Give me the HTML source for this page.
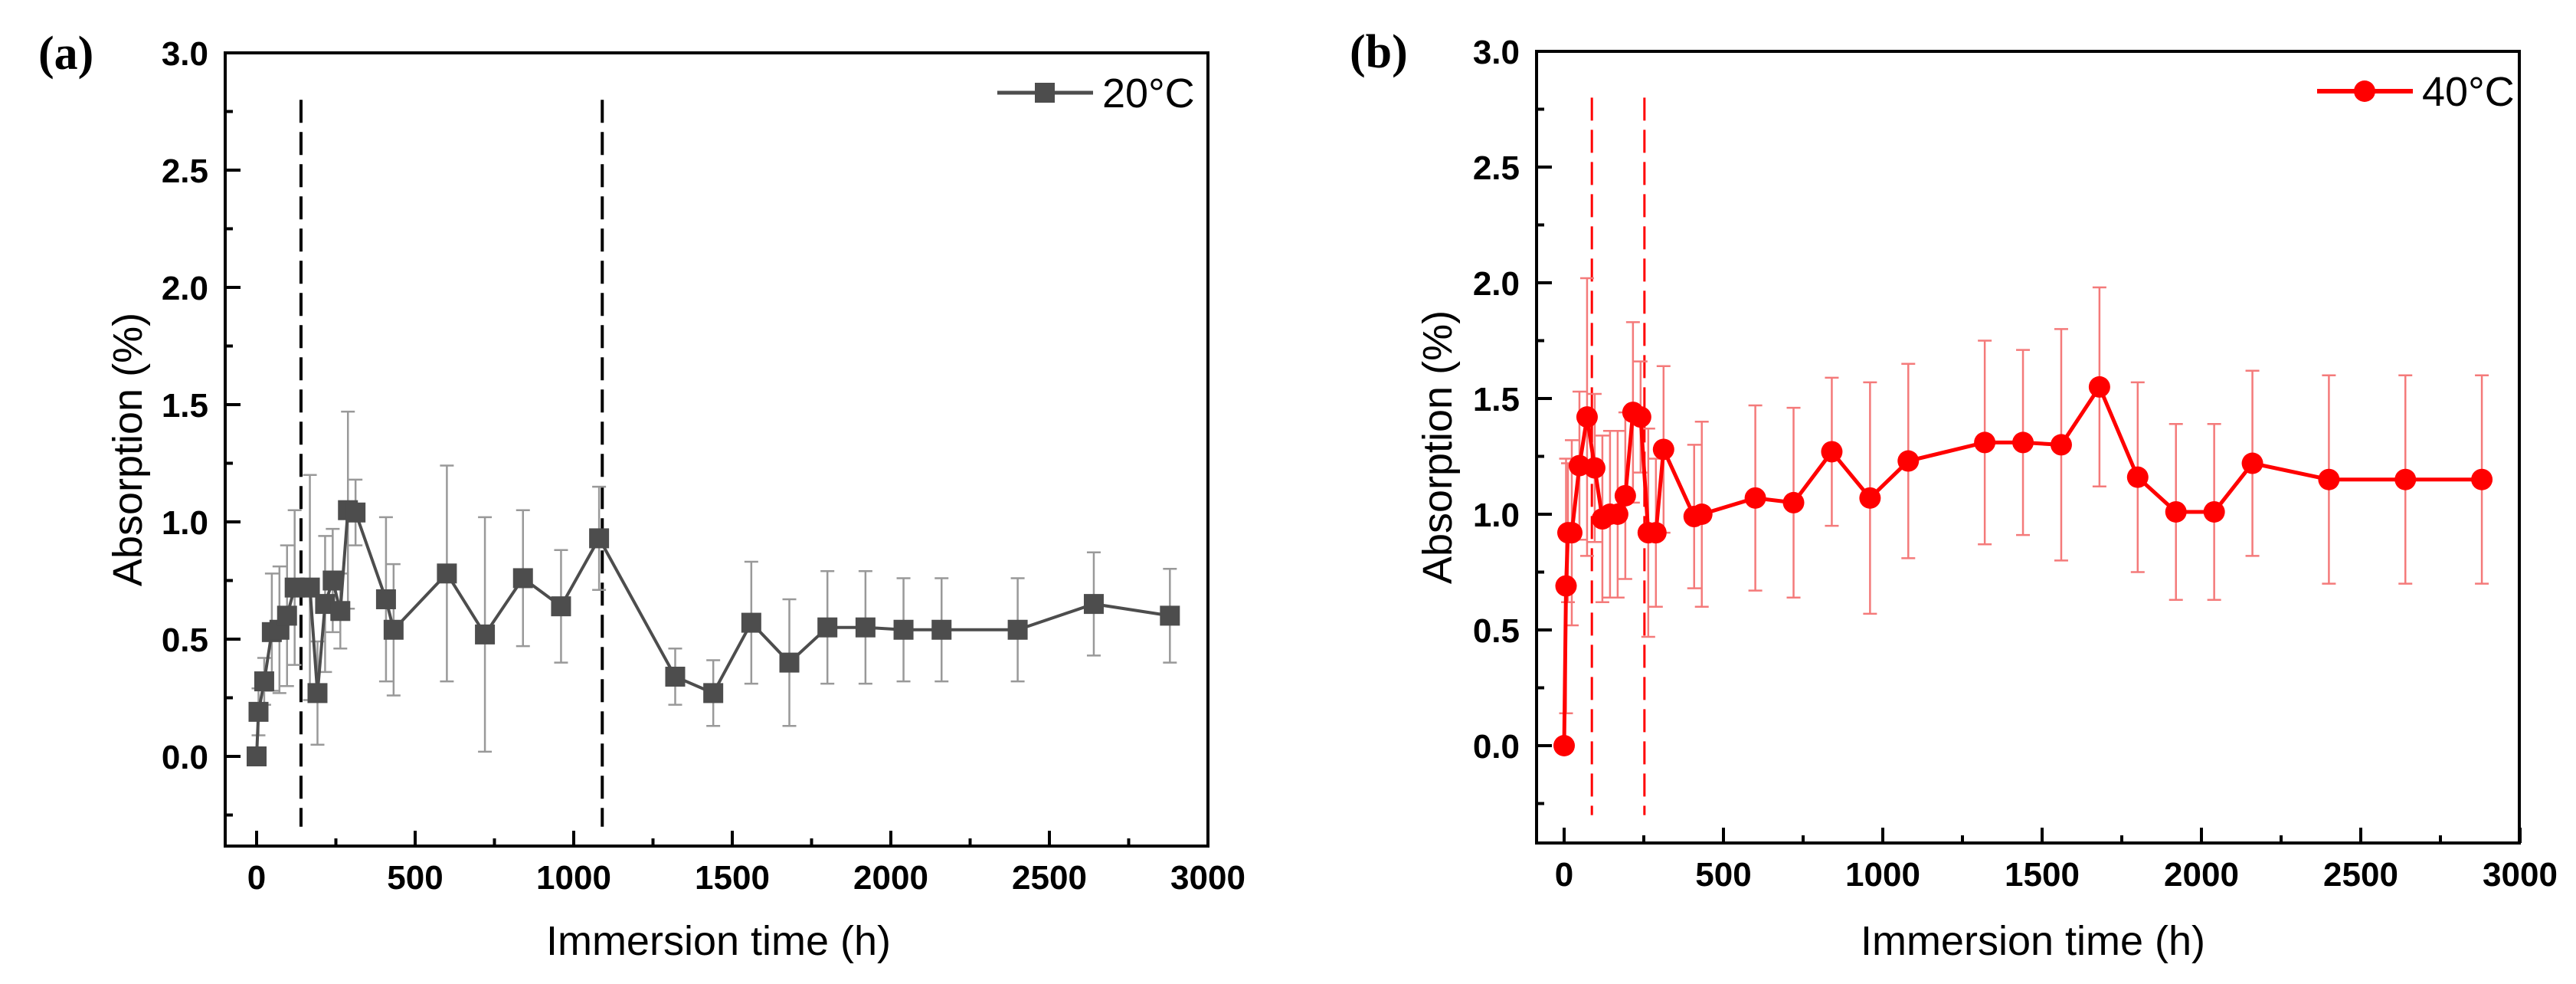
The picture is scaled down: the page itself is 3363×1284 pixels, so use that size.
<!DOCTYPE html>
<html><head><meta charset="utf-8"><style>
html,body{margin:0;padding:0;background:#fff;}
svg{display:block;}
.tick{font-family:"Liberation Sans",Arial,sans-serif;font-weight:bold;font-size:44px;fill:#000;}
.title{font-family:"Liberation Sans",Arial,sans-serif;font-size:54px;fill:#000;}
.lbl{font-family:"Liberation Serif",serif;font-weight:bold;font-size:62px;fill:#000;}
.leg{font-family:"Liberation Sans",Arial,sans-serif;font-size:54px;fill:#000;}
</style></head><body>
<svg id="fig" width="3363" height="1284" viewBox="0 0 3363 1284" xmlns="http://www.w3.org/2000/svg"></svg>
<script>
// Panel (a) 20°C data
const timesA = [0,6,24,48,72,96,120,168,192,216,240,264,288,312,408,432,600,720,840,960,1080,1320,1440,1560,1680,1800,1920,2040,2160,2400,2640,2880];
const valuesA = [0,0.19,0.32,0.53,0.54,0.60,0.72,0.72,0.27,0.65,0.75,0.62,1.05,1.04,0.67,0.54,0.78,0.52,0.76,0.64,0.93,0.34,0.27,0.57,0.40,0.55,0.55,0.54,0.54,0.54,0.65,0.60];
const errorsA = [0,0.1,0.1,0.25,0.27,0.3,0.33,0.48,0.22,0.29,0.22,0.16,0.42,0.14,0.35,0.28,0.46,0.5,0.29,0.24,0.22,0.12,0.14,0.26,0.27,0.24,0.24,0.22,0.22,0.22,0.22,0.2];
const vlinesA = [140,1090];
// Panel (b) 40°C data
const timesB = [0,6,12,24,48,72,96,120,144,168,192,216,240,264,288,312,408,432,600,720,840,960,1080,1320,1440,1560,1680,1800,1920,2040,2160,2400,2640,2880];
const valuesB = [0,0.69,0.92,0.92,1.21,1.42,1.20,0.98,1.0,1.0,1.08,1.44,1.42,0.92,0.92,1.28,0.99,1.0,1.07,1.05,1.27,1.07,1.23,1.31,1.31,1.30,1.55,1.16,1.01,1.01,1.22,1.15,1.15,1.15];
const errorsB = [0,0.55,0.3,0.4,0.32,0.6,0.32,0.36,0.36,0.36,0.36,0.39,0.24,0.45,0.32,0.36,0.31,0.4,0.4,0.41,0.32,0.5,0.42,0.44,0.4,0.5,0.43,0.41,0.38,0.38,0.4,0.45,0.45,0.45];
const vlinesB = [87,252];
const xTicks = [0,500,1000,1500,2000,2500,3000];
const yTicks = [0,0.5,1.0,1.5,2.0,2.5,3.0];
const yTickLabels = ["0.0","0.5","1.0","1.5","2.0","2.5","3.0"];

const NS="http://www.w3.org/2000/svg";
const svg=document.getElementById('fig');
function mk(tag,attrs,parent){const e=document.createElementNS(NS,tag);for(const k in attrs)e.setAttribute(k,attrs[k]);(parent||svg).appendChild(e);return e;}

function panel(cfg){
  const g=mk('g',{});
  
  
  const L=cfg.left,R=cfg.right,T=cfg.top,B=cfg.bottom;
  const x=v=>cfg.x0+(v)*cfg.xs;
  const y=v=>cfg.y0-(v)*cfg.ys;
  const pl=mk('text',{x:cfg.lblX,y:cfg.lblY,class:'lbl'},g);pl.textContent=cfg.label;
  
  
  cfg.vlines.forEach(t=>{
    const l=mk('line',{x1:x(t),x2:x(t),y1:y(2.8),y2:y(-0.3),stroke:cfg.dashColor,'stroke-width':cfg.dashW,'stroke-dasharray':'30 12'},g);
    
    
  });
  cfg.times.forEach((t,i)=>{
    const e=cfg.errors[i]; if(!e) return;
    const cx=x(t);
    const eb=mk('g',{stroke:cfg.errColor,'stroke-width':2.5},g);
    
    
    mk('line',{x1:cx,x2:cx,y1:y(cfg.values[i]+e),y2:y(cfg.values[i]-e)},eb);
    mk('line',{x1:cx-9,x2:cx+9,y1:y(cfg.values[i]+e),y2:y(cfg.values[i]+e)},eb);
    mk('line',{x1:cx-9,x2:cx+9,y1:y(cfg.values[i]-e),y2:y(cfg.values[i]-e)},eb);
  });
  const pts=cfg.times.map((t,i)=>x(t)+','+y(cfg.values[i])).join(' ');
  const pline=mk('polyline',{points:pts,fill:'none',stroke:cfg.color,'stroke-width':cfg.lineW},g);
  
  
  cfg.times.forEach((t,i)=>{
    let m;
    if(cfg.marker==='sq') m=mk('rect',{x:x(t)-13,y:y(cfg.values[i])-13,width:26,height:26,fill:cfg.color},g);
    else m=mk('circle',{cx:x(t),cy:y(cfg.values[i]),r:14,fill:cfg.color},g);
    
    
  });
  const fr=mk('rect',{x:L,y:T,width:R-L,height:B-T,fill:'none',stroke:'#000','stroke-width':4},g);
  
  
  xTicks.forEach((v,i)=>{
    mk('line',{x1:x(v),x2:x(v),y1:B,y2:B-20,stroke:'#000','stroke-width':4},g);
    if(i<xTicks.length-1) mk('line',{x1:x(v+250),x2:x(v+250),y1:B,y2:B-10,stroke:'#000','stroke-width':4},g);
    const tx=mk('text',{x:x(v),y:B+56,'text-anchor':'middle',class:'tick'},g);tx.textContent=String(v);
    
    
  });
  yTicks.forEach((v,i)=>{
    mk('line',{x1:L,x2:L+20,y1:y(v),y2:y(v),stroke:'#000','stroke-width':4},g);
    mk('line',{x1:L,x2:L+10,y1:y(v-0.25),y2:y(v-0.25),stroke:'#000','stroke-width':4},g);
    const ty=mk('text',{x:L-22,y:y(v)+16,'text-anchor':'end',class:'tick'},g);ty.textContent=yTickLabels[i];
    
    
  });
  const xt=mk('text',{x:cfg.xtX,y:1246,'text-anchor':'middle',class:'title'},g);xt.textContent='Immersion time (h)';
  
  
  const yt=mk('text',{x:0,y:0,'text-anchor':'middle',class:'title',transform:`translate(${cfg.ytX},${(T+B)/2}) rotate(-90)`},g);yt.textContent='Absorption (%)';
  
  
  const lg=mk('g',{},g);
  
  
  mk('line',{x1:cfg.legX,x2:cfg.legX+125,y1:cfg.legY,y2:cfg.legY,stroke:cfg.color,'stroke-width':cfg.lineW+1},lg);
  if(cfg.marker==='sq') mk('rect',{x:cfg.legX+49,y:cfg.legY-13,width:26,height:26,fill:cfg.color},lg);
  else mk('circle',{cx:cfg.legX+62,cy:cfg.legY,r:14,fill:cfg.color},lg);
  const lt=mk('text',{x:cfg.legX+137,y:cfg.legY+19,class:'leg'},lg);lt.textContent=cfg.legText;
}

panel({name:'panel-a-20c',label:'(a)',lblX:50,lblY:90,left:294,right:1577,top:69,bottom:1104,
  x0:335,xs:0.414,y0:987,ys:306,times:timesA,values:valuesA,errors:errorsA,vlines:vlinesA,
  color:'#4d4d4d',errColor:'#999',lineW:4,marker:'sq',dashColor:'#000',dashW:4,
  xtX:938,ytX:185,legX:1302,legY:121,legText:'20°C'});
panel({name:'panel-b-40c',label:'(b)',lblX:1762,lblY:88,left:2006,right:3289,top:67,bottom:1100,
  x0:2042,xs:0.416,y0:973,ys:302,times:timesB,values:valuesB,errors:errorsB,vlines:vlinesB,
  color:'#ff0000',errColor:'#f47a7a',lineW:5,marker:'c',dashColor:'#ff0000',dashW:3,
  xtX:2654,ytX:1895,legX:3025,legY:119,legText:'40°C'});
</script>
</body></html>
